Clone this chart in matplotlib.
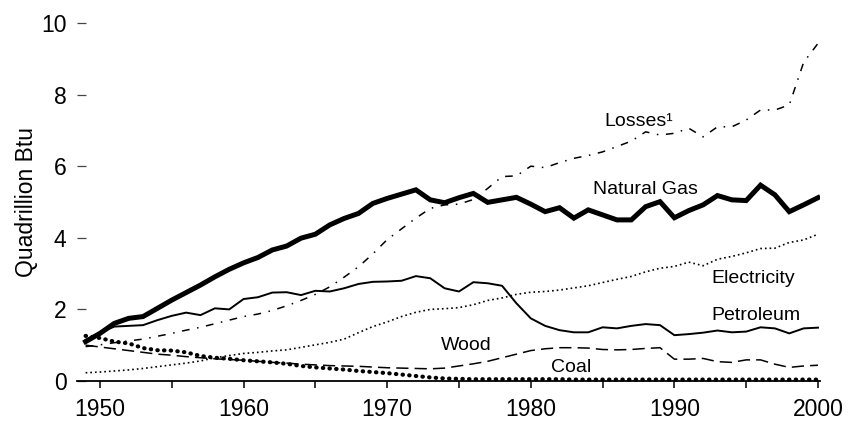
import numpy as np
import matplotlib
matplotlib.use("Agg")
import matplotlib.pyplot as plt
from matplotlib.ticker import MultipleLocator

plt.rcParams['font.family'] = ['Liberation Sans', 'DejaVu Sans']

#---data, quadrillion Btu
years = list(range(1949, 2001))

natural_gas = [1.10, 1.33, 1.61, 1.75, 1.80, 2.03, 2.26, 2.47, 2.68, 2.91,
               3.12, 3.30, 3.45, 3.66, 3.77, 3.99, 4.10, 4.36, 4.54, 4.68,
               4.96, 5.10, 5.22, 5.34, 5.06, 4.98, 5.12, 5.24, 4.99, 5.06,
               5.13, 4.94, 4.73, 4.84, 4.55, 4.78, 4.64, 4.50, 4.50, 4.87,
               5.01, 4.56, 4.76, 4.92, 5.18, 5.06, 5.04, 5.47, 5.20, 4.73,
               4.92, 5.12]

petroleum = [1.15, 1.35, 1.52, 1.54, 1.56, 1.70, 1.82, 1.91, 1.84, 2.03,
             2.00, 2.29, 2.34, 2.47, 2.48, 2.40, 2.52, 2.50, 2.59, 2.71,
             2.77, 2.78, 2.80, 2.93, 2.87, 2.59, 2.50, 2.76, 2.73, 2.66,
             2.17, 1.75, 1.54, 1.42, 1.36, 1.36, 1.50, 1.47, 1.54, 1.59,
             1.56, 1.28, 1.31, 1.35, 1.41, 1.36, 1.38, 1.50, 1.47, 1.33,
             1.47, 1.49]

losses = [0.96, 1.01, 1.07, 1.12, 1.17, 1.25, 1.33, 1.42, 1.50, 1.60,
          1.70, 1.80, 1.87, 1.97, 2.10, 2.25, 2.42, 2.63, 2.90, 3.19,
          3.55, 3.95, 4.25, 4.55, 4.82, 4.92, 4.94, 5.07, 5.38, 5.71,
          5.73, 6.00, 5.96, 6.10, 6.22, 6.30, 6.40, 6.55, 6.70, 6.96,
          6.87, 6.92, 7.06, 6.82, 7.10, 7.10, 7.29, 7.57, 7.57, 7.71,
          8.90, 9.43]

electricity = [0.23, 0.25, 0.28, 0.31, 0.35, 0.40, 0.45, 0.50, 0.56, 0.65,
               0.71, 0.77, 0.80, 0.84, 0.87, 0.94, 1.01, 1.08, 1.17, 1.35,
               1.52, 1.65, 1.80, 1.92, 2.00, 2.02, 2.05, 2.13, 2.25, 2.32,
               2.42, 2.48, 2.50, 2.54, 2.60, 2.66, 2.75, 2.84, 2.92, 3.05,
               3.15, 3.20, 3.32, 3.22, 3.40, 3.48, 3.58, 3.70, 3.71, 3.87,
               3.94, 4.10]

wood = [1.00, 0.95, 0.90, 0.85, 0.80, 0.75, 0.72, 0.68, 0.65, 0.62,
        0.60, 0.58, 0.55, 0.52, 0.50, 0.47, 0.45, 0.43, 0.42, 0.41,
        0.39, 0.37, 0.36, 0.35, 0.34, 0.36, 0.42, 0.48, 0.55, 0.65,
        0.75, 0.85, 0.90, 0.93, 0.93, 0.92, 0.88, 0.87, 0.88, 0.91,
        0.93, 0.61, 0.61, 0.63, 0.54, 0.52, 0.59, 0.59, 0.47, 0.38,
        0.42, 0.44]

coal = [1.26, 1.20, 1.10, 1.05, 0.92, 0.86, 0.85, 0.80, 0.70, 0.65,
        0.62, 0.58, 0.55, 0.52, 0.48, 0.42, 0.38, 0.35, 0.32, 0.28,
        0.25, 0.22, 0.18, 0.14, 0.10, 0.07, 0.06, 0.05, 0.05, 0.05,
        0.05, 0.05, 0.05, 0.05, 0.04, 0.04, 0.04, 0.04, 0.04, 0.04,
        0.04, 0.04, 0.04, 0.04, 0.04, 0.04, 0.04, 0.04, 0.04, 0.04,
        0.04, 0.04]

#---figure
fig = plt.figure(figsize=(8.48, 4.21), dpi=100)
ax = fig.add_axes([77/848, 40/421, 743/848, 358/421])

ax.plot(years, coal, color='black', lw=3.0, linestyle=(0, (0.1, 1.5)),
        dash_capstyle='round', clip_on=False)
ax.plot(years, wood, color='black', lw=1.1, linestyle=(0, (8, 4)))
ax.plot(years, electricity, color='black', lw=1.2, linestyle=(0, (1, 1.8)))
ax.plot(years, losses, color='black', lw=1.1, linestyle=(0, (5, 5, 1, 5)))
ax.plot(years, petroleum, color='black', lw=1.4)
ax.plot(years, natural_gas, color='black', lw=3.6, solid_joinstyle='miter')

#---labels on the lines
fs = 14
ax.text(1987.5, 7.24, 'Losses\u00b9', fontsize=fs, ha='center', va='center')
ax.text(1988.0, 5.36, 'Natural Gas', fontsize=fs, ha='center', va='center')
ax.text(1995.5, 2.85, 'Electricity', fontsize=fs, ha='center', va='center')
ax.text(1995.7, 1.84, 'Petroleum', fontsize=fs, ha='center', va='center')
ax.text(1975.5, 0.98, 'Wood', fontsize=fs, ha='center', va='center')
ax.text(1982.8, 0.38, 'Coal', fontsize=fs, ha='center', va='center')

ax.set_xlim(1948.4, 2000.14)
ax.set_ylim(0, 10)
for s in ['top', 'right', 'left']:
    ax.spines[s].set_visible(False)
ax.spines['bottom'].set_linewidth(1.3)

ax.xaxis.set_major_locator(MultipleLocator(10))
ax.xaxis.set_minor_locator(MultipleLocator(5))
ax.yaxis.set_major_locator(MultipleLocator(2))
ax.tick_params(axis='x', which='both', direction='out', length=5, width=1.1,
               labelsize=16.5, pad=7.5)
ax.tick_params(axis='y', direction='in', length=6.5, width=0.9, color='#444444',
               labelsize=16.5, pad=7.5)
ax.set_ylabel('Quadrillion Btu', fontsize=16.5, labelpad=2)

fig.savefig('out.png', dpi=100)
